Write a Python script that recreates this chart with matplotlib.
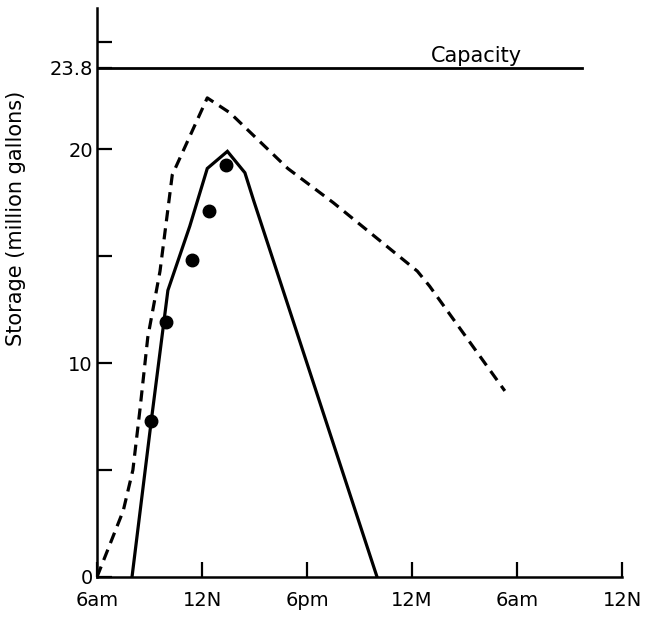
import matplotlib
matplotlib.use("Agg")
import matplotlib.pyplot as plt

# hours after 6am (day 1)
solid_hr = [2.0, 3.1, 4.05, 5.3, 6.3, 7.45, 8.45, 8.95, 16.0]
solid_val = [0.0, 7.3, 13.4, 16.4, 19.1, 19.9, 18.9, 17.6, 0.0]

dash_hr = [0.0, 1.5, 2.05, 2.45, 2.9, 3.6, 4.3, 6.3, 7.6, 10.9, 13.5, 18.3, 19.0, 23.3]
dash_val = [0.0, 3.1, 5.0, 7.8, 11.2, 14.3, 18.8, 22.4, 21.7, 19.1, 17.5, 14.3, 13.6, 8.7]

obs_hr = [3.1, 3.95, 5.45, 6.4, 7.35]
obs_val = [7.3, 11.9, 14.8, 17.1, 19.25]

capacity = 23.8
cap_end = 27.7

xticks = [0, 6, 12, 18, 24, 30]
xlabels = ["6am", "12N", "6pm", "12M", "6am", "12N"]
yticks = [0, 5, 10, 15, 20, 23.8, 25]
ylabels = ["0", "", "10", "", "20", "23.8", ""]

fig = plt.figure(figsize=(6.48, 6.2), dpi=100)
ax = fig.add_axes([0.1497, 0.0694, 0.8103, 0.9176])

ax.plot(solid_hr, solid_val, color="black", lw=2.3, solid_joinstyle="miter")
ax.plot(dash_hr, dash_val, color="black", lw=2.3, linestyle=(0, (3.5, 2.2)))
ax.plot(obs_hr, obs_val, "o", color="black", markersize=9)
ax.plot([0, cap_end], [capacity, capacity], color="black", lw=2)
ax.text(21.7, 24.35, "Capacity", fontsize=15, ha="center", va="center")

ax.set_xlim(0, 30)
ax.set_ylim(0, 26.6)
ax.spines["top"].set_visible(False)
ax.spines["right"].set_visible(False)
ax.spines["left"].set_linewidth(1.8)
ax.spines["bottom"].set_linewidth(1.8)

ax.set_xticks(xticks)
ax.set_xticklabels(xlabels, fontsize=14)
ax.set_yticks(yticks)
ax.set_yticklabels(ylabels, fontsize=14)
ax.tick_params(axis="both", direction="in", length=11, width=1.6)
ax.tick_params(axis="x", pad=10)
ax.tick_params(axis="y", pad=3)

ax.set_ylabel("Storage (million gallons)", fontsize=15)
ax.yaxis.set_label_coords(-0.135, 0.63)

fig.savefig("out.png", dpi=100)
